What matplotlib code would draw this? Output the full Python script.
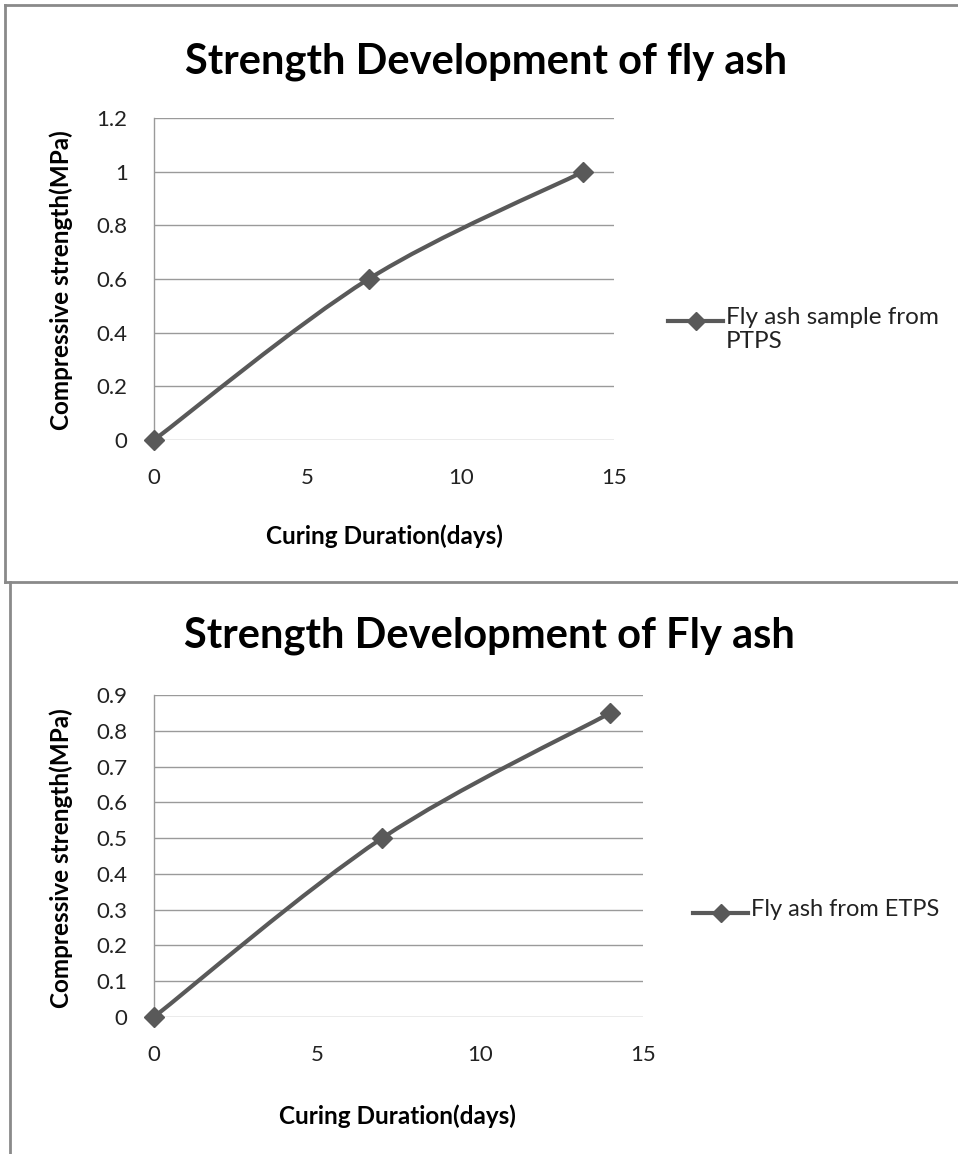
import matplotlib
matplotlib.use("Agg")
import matplotlib.pyplot as plt
from matplotlib.path import Path
from matplotlib.patches import PathPatch
from matplotlib.lines import Line2D
import numpy as np

plt.rcParams['font.family'] = ['Lato', 'DejaVu Sans']

# ---- data ----
days = [0, 7, 14]
ptps_strength = [0, 0.6, 1.0]
etps_strength = [0, 0.5, 0.85]

top_title = "Strength Development of fly ash"
bottom_title = "Strength Development of Fly ash"
xlabel = "Curing Duration(days)"
ylabel = "Compressive strength(MPa)"
top_legend = "Fly ash sample from\nPTPS"
bottom_legend = "Fly ash from ETPS"
top_yticks = [0, 0.2, 0.4, 0.6, 0.8, 1, 1.2]
top_yticklabels = ["0", "0.2", "0.4", "0.6", "0.8", "1", "1.2"]
bottom_yticks = [0, 0.1, 0.2, 0.3, 0.4, 0.5, 0.6, 0.7, 0.8, 0.9]
bottom_yticklabels = ["0", "0.1", "0.2", "0.3", "0.4", "0.5", "0.6", "0.7", "0.8", "0.9"]
xticks = [0, 5, 10, 15]

W, H = 958, 1154
LINE_COLOR = "#595959"
GRID_COLOR = "#9a9a9a"
FRAME_COLOR = "#8a8a8a"

fig = plt.figure(figsize=(W / 100, H / 100), dpi=100)


def fx(px):
    return px / W


def fy(py):
    return 1 - py / H


def smooth_path(xs, ys):
    pts = np.column_stack([xs, ys]).astype(float)
    n = len(pts)
    verts = [pts[0]]
    codes = [Path.MOVETO]
    for i in range(n - 1):
        p0 = pts[i - 1] if i > 0 else pts[i]
        p1 = pts[i]
        p2 = pts[i + 1]
        p3 = pts[i + 2] if i + 2 < n else pts[i + 1]
        c1 = p1 + (p2 - p0) / 6.0
        c2 = p2 - (p3 - p1) / 6.0
        verts += [c1, c2, p2]
        codes += [Path.CURVE4] * 3
    return Path(verts, codes)


def make_chart(left, right, top, bottom, ys, yticks, yticklabels, ymax,
               title, title_xy, legend_text, legend_xy, legend_size, xlabel_xy, ylabel_xy):
    ax = fig.add_axes([fx(left), fy(bottom), fx(right) - fx(left), fy(top) - fy(bottom)])
    ax.set_xlim(0, 15)
    ax.set_ylim(0, ymax)
    ax.set_xticks(xticks)
    ax.set_xticklabels([str(t) for t in xticks])
    ax.set_yticks(yticks)
    ax.set_yticklabels(yticklabels)
    for s in ["top", "right", "bottom"]:
        ax.spines[s].set_visible(False)
    ax.spines["left"].set_color(GRID_COLOR)
    ax.spines["left"].set_linewidth(1.0)
    ax.grid(axis="y", color=GRID_COLOR, linewidth=1.0)
    ax.set_axisbelow(True)
    ax.tick_params(axis="both", length=0, labelsize=16, colors="#222222")
    ax.tick_params(axis="y", pad=19)
    ax.tick_params(axis="x", pad=20)
    ax.patch.set_alpha(0)

    patch = PathPatch(smooth_path(days, ys), facecolor="none", edgecolor=LINE_COLOR,
                      linewidth=3.0, capstyle="round", joinstyle="round", zorder=3)
    ax.add_patch(patch)
    ax.plot(days, ys, linestyle="none", marker="D", markersize=10,
            color=LINE_COLOR, zorder=4, clip_on=False)

    fig.text(fx(title_xy[0]), fy(title_xy[1]), title, ha="center", va="center",
             fontsize=30, fontweight="bold", color="#000000")
    fig.text(fx(xlabel_xy[0]), fy(xlabel_xy[1]), xlabel, ha="center", va="center",
             fontsize=17.5, fontweight="bold", color="#000000")
    fig.text(fx(ylabel_xy[0]), fy(ylabel_xy[1]), ylabel, ha="center", va="center",
             rotation=90, fontsize=17.5, fontweight="bold", color="#000000")

    lx, ly = legend_xy
    fig.add_artist(Line2D([fx(lx), fx(lx + 55)], [fy(ly), fy(ly)], color=LINE_COLOR,
                          linewidth=3.0, transform=fig.transFigure))
    fig.add_artist(Line2D([fx(lx + 27.5)], [fy(ly)], color=LINE_COLOR, marker="D",
                          markersize=9, linestyle="none", transform=fig.transFigure))
    fig.text(fx(lx + 58), fy(ly - 14), legend_text, ha="left", va="top",
             fontsize=legend_size, color="#222222", linespacing=1.15)
    return ax


make_chart(154, 614, 118, 440, ptps_strength, top_yticks, top_yticklabels, 1.2,
           top_title, (486, 62), top_legend, (668, 321), 17.5, (384, 536), (61, 280))
make_chart(154, 643, 695, 1017, etps_strength, bottom_yticks, bottom_yticklabels, 0.9,
           bottom_title, (489, 636), bottom_legend, (693, 913), 17, (397, 1116), (61, 858))

# chart frames
frame_kw = dict(color=FRAME_COLOR, linewidth=2.0, transform=fig.transFigure)
fig.add_artist(Line2D([fx(5), fx(958)], [fy(5), fy(5)], **frame_kw))
fig.add_artist(Line2D([fx(5), fx(5)], [fy(5), fy(582)], **frame_kw))
fig.add_artist(Line2D([fx(5), fx(958)], [fy(582), fy(582)], **frame_kw))
fig.add_artist(Line2D([fx(10), fx(10)], [fy(582), fy(1154)], **frame_kw))

fig.savefig("out.png", dpi=100)
